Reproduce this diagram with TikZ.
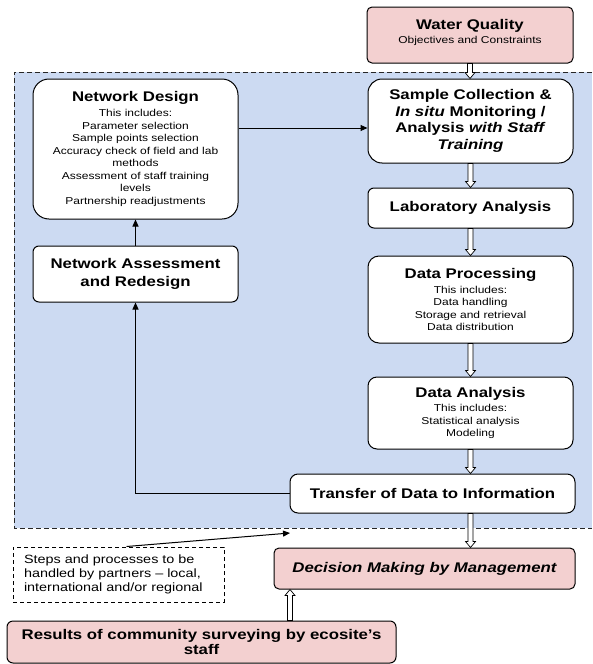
\documentclass[tikz,border=0pt]{standalone}
\usepackage{fontspec}
\setmainfont{Liberation Sans}[FakeStretch=1.2]
\usetikzlibrary{arrows.meta,calc}
\definecolor{bluefill}{RGB}{204,218,242}
\definecolor{pinkfill}{RGB}{243,208,208}
\newcommand{\mytitle}{\fontsize{14}{16.5}\selectfont\bfseries}
\newcommand{\mysmall}{\fontsize{10}{12.5}\selectfont\mdseries}
\tikzset{
  box/.style={draw=black, line width=1pt, fill=white, inner sep=0pt, align=center, font=\mytitle},
  listbox/.style={box, font=\mysmall},
  pinkbox/.style={box, fill=pinkfill},
  linkarrow/.style={draw=black, line width=1pt, -{Triangle[length=7pt,width=6pt]}},
  hollowdown/.style={draw=black, fill=white, line width=0.7pt, to path={
    let \p1=(\tikztostart), \p2=(\tikztotarget) in
    (\x1-2.5pt,\y1) -- (\x1-2.5pt,\y2+6pt) -- (\x1-5pt,\y2+6pt) -- (\x1,\y2)
    -- (\x1+5pt,\y2+6pt) -- (\x1+2.5pt,\y2+6pt) -- (\x1+2.5pt,\y1) -- cycle}},
  hollowup/.style={draw=black, fill=white, line width=0.7pt, to path={
    let \p1=(\tikztostart), \p2=(\tikztotarget) in
    (\x1-2.5pt,\y1) -- (\x1-2.5pt,\y2-6pt) -- (\x1-5pt,\y2-6pt) -- (\x1,\y2)
    -- (\x1+5pt,\y2-6pt) -- (\x1+2.5pt,\y2-6pt) -- (\x1+2.5pt,\y1) -- cycle}},
  regionline/.style={draw=black!85, line width=1pt, dash pattern=on 5pt off 3pt}
}
\begin{document}
\begin{tikzpicture}[x=1pt,y=-1pt]
\useasboundingbox (0,0) rectangle (592,664);
% shaded region
\fill[bluefill] (14,72) rectangle (592,528);
\draw[regionline] (592,72) -- (14,72) -- (14,528) -- (592,528);

% nodes
\node[pinkbox, font=\mysmall, rounded corners=5pt, minimum width=206pt, minimum height=56pt] (WQ) at (470,35)
  {{\mytitle Water Quality}\\[1.5pt] Objectives and Constraints\\[-6pt]\mbox{}};
\node[box, rounded corners=14pt, minimum width=205pt, minimum height=84pt] (SC) at (470.5,121)
  {Sample Collection \&\\ \textit{In situ} Monitoring /\\ Analysis \textit{with Staff}\\ \textit{Training}};
\node[box, rounded corners=6pt, minimum width=205pt, minimum height=40pt] (LA) at (470.5,208)
  {Laboratory Analysis};
\node[listbox, rounded corners=16pt, minimum width=205pt, minimum height=140pt] (ND) at (135.5,149)
  {{\mytitle Network Design}\\[2.5pt]
   This includes:\\ Parameter selection\\ Sample points selection\\
   Accuracy check of field and lab\\ methods\\
   Assessment of staff training\\ levels\\ Partnership readjustments};
\node[box, rounded corners=6pt, minimum width=205pt, minimum height=56pt] (NA) at (135.5,274)
  {Network Assessment\\[2pt] and Redesign};
\node[listbox, rounded corners=11pt, minimum width=205pt, minimum height=87pt] (DP) at (470.5,299.5)
  {{\mytitle Data Processing}\\[2.5pt]
   This includes:\\ Data handling\\ Storage and retrieval\\ Data distribution};
\node[listbox, rounded corners=9pt, minimum width=205pt, minimum height=72pt] (DA) at (470.5,413)
  {{\mytitle Data Analysis}\\[1.5pt]
   This includes:\\ Statistical analysis\\ Modeling};
\node[box, rounded corners=8pt, minimum width=285pt, minimum height=39pt] (TR) at (432.5,493.5)
  {Transfer of Data to Information};
\node[pinkbox, rounded corners=5pt, minimum width=301pt, minimum height=41pt] (DM) at (424.5,568.5)
  {\itshape Decision Making by Management};
\node[draw=black, line width=1pt, dash pattern=on 4pt off 3pt, inner xsep=11pt, inner ysep=0pt,
      text width=189pt, align=left, minimum height=55pt,
      font=\fontsize{12}{14.2}\selectfont] (ST) at (118.5,574.5)
  {Steps and processes to be\\ handled by partners -- local,\\ international and/or regional};
\node[pinkbox, rounded corners=6pt, minimum width=389pt, minimum height=42pt] (RS) at (201.5,642)
  {Results of community surveying by ecosite's\\[-2pt] staff};

% helper coordinates
\coordinate (ay) at (0,128);
\coordinate (rx) at (290,0);
\coordinate (tipS) at (290,533);

% hollow arrows
\draw[hollowdown] (WQ.south) to (SC.north);
\draw[hollowdown] (SC.south) to (LA.north);
\draw[hollowdown] (LA.south) to (DP.north);
\draw[hollowdown] (DP.south) to (DA.north);
\draw[hollowdown] (DA.south) to (TR.north -| DA.south);
\draw[hollowdown] (TR.south -| DA.south) to (DM.north -| DA.south);
\draw[hollowup] (RS.north -| rx) to (DM.south -| rx);

% line arrows
\draw[linkarrow] (ND.east |- ay) -- (SC.west |- ay);
\draw[linkarrow] (NA.north) -- (ND.south);
\draw[linkarrow] (TR.west) -- (TR.west -| NA.south) -- (NA.south);
\draw[linkarrow] ($(ST.north)+(8,0)$) -- (tipS);
\end{tikzpicture}
\end{document}
